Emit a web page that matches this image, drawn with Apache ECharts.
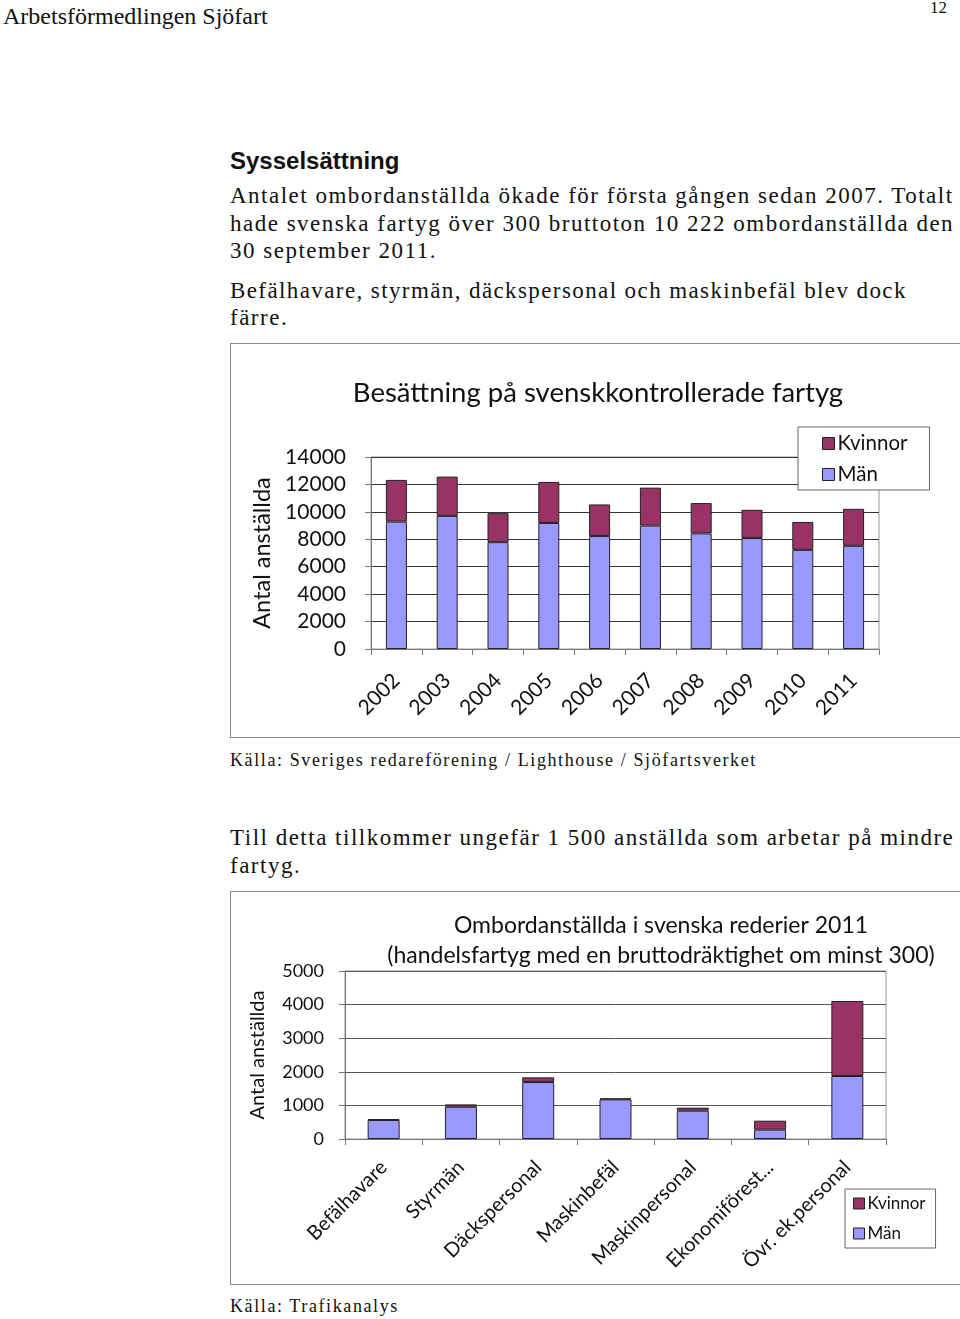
<!DOCTYPE html>
<html><head><meta charset="utf-8">
<script src="https://cdn.jsdelivr.net/npm/echarts@6/dist/echarts.min.js"></script>
<style>
html,body{margin:0;padding:0;background:#fff;width:960px;height:1319px;overflow:hidden;position:relative;}
.t{position:absolute;white-space:nowrap;font-family:"Liberation Serif","DejaVu Serif",serif;color:#111;}
.body{font-size:23px;letter-spacing:1.5px;line-height:27px;}
.src{font-size:18px;letter-spacing:1.6px;}
.box{position:absolute;border:1px solid #888;background:#fff;}
</style></head>
<body>
<div class="t" style="left:3px;top:3px;font-size:24px;">Arbetsförmedlingen Sjöfart</div>
<div class="t" style="left:930px;top:-2px;font-size:17px;">12</div>
<div class="t" style="left:230px;top:147px;font-family:'Liberation Sans',Arial,sans-serif;font-weight:bold;font-size:24px;">Sysselsättning</div>
<div class="t body" style="left:230px;top:182px;">Antalet ombordanställda ökade för första gången sedan 2007. Totalt</div>
<div class="t body" style="left:230px;top:210px;">hade svenska fartyg över 300 bruttoton 10 222 ombordanställda den</div>
<div class="t body" style="left:230px;top:237px;">30 september 2011.</div>
<div class="t body" style="left:230px;top:277px;letter-spacing:1.4px;">Befälhavare, styrmän, däckspersonal och maskinbefäl blev dock</div>
<div class="t body" style="left:230px;top:304px;">färre.</div>
<div id="c1" class="box" style="left:230px;top:343px;width:732px;height:393px;"></div>
<div class="t src" style="left:230px;top:750px;">Källa: Sveriges redareförening / Lighthouse / Sjöfartsverket</div>
<div class="t body" style="left:230px;top:824px;">Till detta tillkommer ungefär 1 500 anställda som arbetar på mindre</div>
<div class="t body" style="left:230px;top:852px;">fartyg.</div>
<div id="c2" class="box" style="left:230px;top:891px;width:732px;height:392px;"></div>
<div class="t src" style="left:230px;top:1296px;">Källa: Trafikanalys</div>
<script>
// Chart 1 data
const years = ['2002','2003','2004','2005','2006','2007','2008','2009','2010','2011'];
const menYears = [9290, 9705, 7790, 9190, 8235, 8995, 8430, 8090, 7230, 7525];
const womenYears = [3040, 2865, 2110, 2990, 2305, 2770, 2210, 2060, 2035, 2697];
// Chart 2 data
const roles = ['Befälhavare','Styrmän','Däckspersonal','Maskinbefäl','Maskinpersonal','Ekonomiförest...','Övr. ek.personal'];
const menRoles = [565, 960, 1695, 1180, 843, 278, 1875];
const womenRoles = [30, 70, 140, 30, 90, 267, 2232];

const MEN = '#9999FF', WOMEN = '#993366';
const FONT = 'Lato';

function makeOption(cfg){
  return {
    animation:false,
    title:{text:cfg.title,left:cfg.titleX,top:cfg.titleY,textAlign:'center',
      textStyle:{fontFamily:FONT,fontWeight:'normal',fontSize:cfg.titleSize,color:'#111',lineHeight:cfg.titleLH}},
    legend:{orient:'vertical',left:cfg.legL,top:cfg.legT,data:['Kvinnor','Män'],z:20,
      backgroundColor:'#fff',
      borderColor:'#666',borderWidth:1,borderRadius:0,padding:cfg.legPad,itemGap:cfg.legGap,
      itemWidth:cfg.legIcon,itemHeight:cfg.legIcon,icon:'rect',
      textStyle:{fontFamily:FONT,fontSize:cfg.legFont,color:'#111',padding:[0,0,0,-2]},
      itemStyle:{borderColor:'#222',borderWidth:1}},
    grid:{left:cfg.gl,top:cfg.gt,width:cfg.gw,height:cfg.gh,show:true,borderColor:'#999',borderWidth:1,containLabel:false},
    xAxis:{type:'category',data:cfg.cats,
      axisLine:{lineStyle:{color:'#777',width:1}},
      axisTick:{show:true,length:6,alignWithLabel:false,lineStyle:{color:'#777'}},
      axisLabel:{rotate:45,interval:0,margin:cfg.xm,fontFamily:FONT,fontSize:cfg.xFont,color:'#111'}},
    yAxis:{type:'value',min:0,max:cfg.max,interval:cfg.step,
      name:'Antal anställda',nameLocation:'middle',nameGap:cfg.nameGap,
      nameTextStyle:{fontFamily:FONT,fontSize:cfg.nameFont,color:'#111'},
      axisLine:{show:true,lineStyle:{color:'#777'}},
      axisTick:{show:true,length:6,lineStyle:{color:'#777'}},
      splitLine:{lineStyle:{color:cfg.gridColor,width:1}},
      axisLabel:{margin:cfg.ym,formatter:v=>String(v),fontFamily:FONT,fontSize:cfg.yFont,color:'#111'}},
    series:[
      {name:'Män',type:'bar',stack:'s',data:cfg.men,barWidth:cfg.bw,
        itemStyle:{color:MEN,borderColor:'#222',borderWidth:1}},
      {name:'Kvinnor',type:'bar',stack:'s',data:cfg.women,barWidth:cfg.bw,
        itemStyle:{color:WOMEN,borderColor:'#222',borderWidth:1}}
    ]
  };
}

const c1 = echarts.init(document.getElementById('c1'),null,{renderer:'canvas'});
c1.setOption(makeOption({
  title:'Besättning på svenskkontrollerade fartyg',titleX:362,titleY:28,titleSize:27.5,titleLH:32,
  legL:567,legT:83,legPad:[6,22,5,24],legGap:10,legIcon:12,legFont:20.5,
  gl:140,gt:113,gw:508,gh:192,cats:years,xm:28,xFont:21,
  max:14000,step:2000,nameGap:91,nameFont:23.5,ym:25,yFont:21,gridColor:'#333',
  men:menYears,women:womenYears,bw:21
}));

const c2 = echarts.init(document.getElementById('c2'),null,{renderer:'canvas'});
c2.setOption(makeOption({
  title:'Ombordanställda i svenska rederier 2011\n(handelsfartyg med en bruttodräktighet om minst 300)',titleX:425,titleY:14,titleSize:23,titleLH:30,
  legL:614,legT:297,legPad:[6,10,6,8],legGap:13,legIcon:11,legFont:17,
  gl:114,gt:79,gw:541,gh:168,cats:roles,xm:25,xFont:20,
  max:5000,step:1000,nameGap:77,nameFont:20,ym:21,yFont:18,gridColor:'#555',
  men:menRoles,women:womenRoles,bw:32
}));
</script>
</body></html>
